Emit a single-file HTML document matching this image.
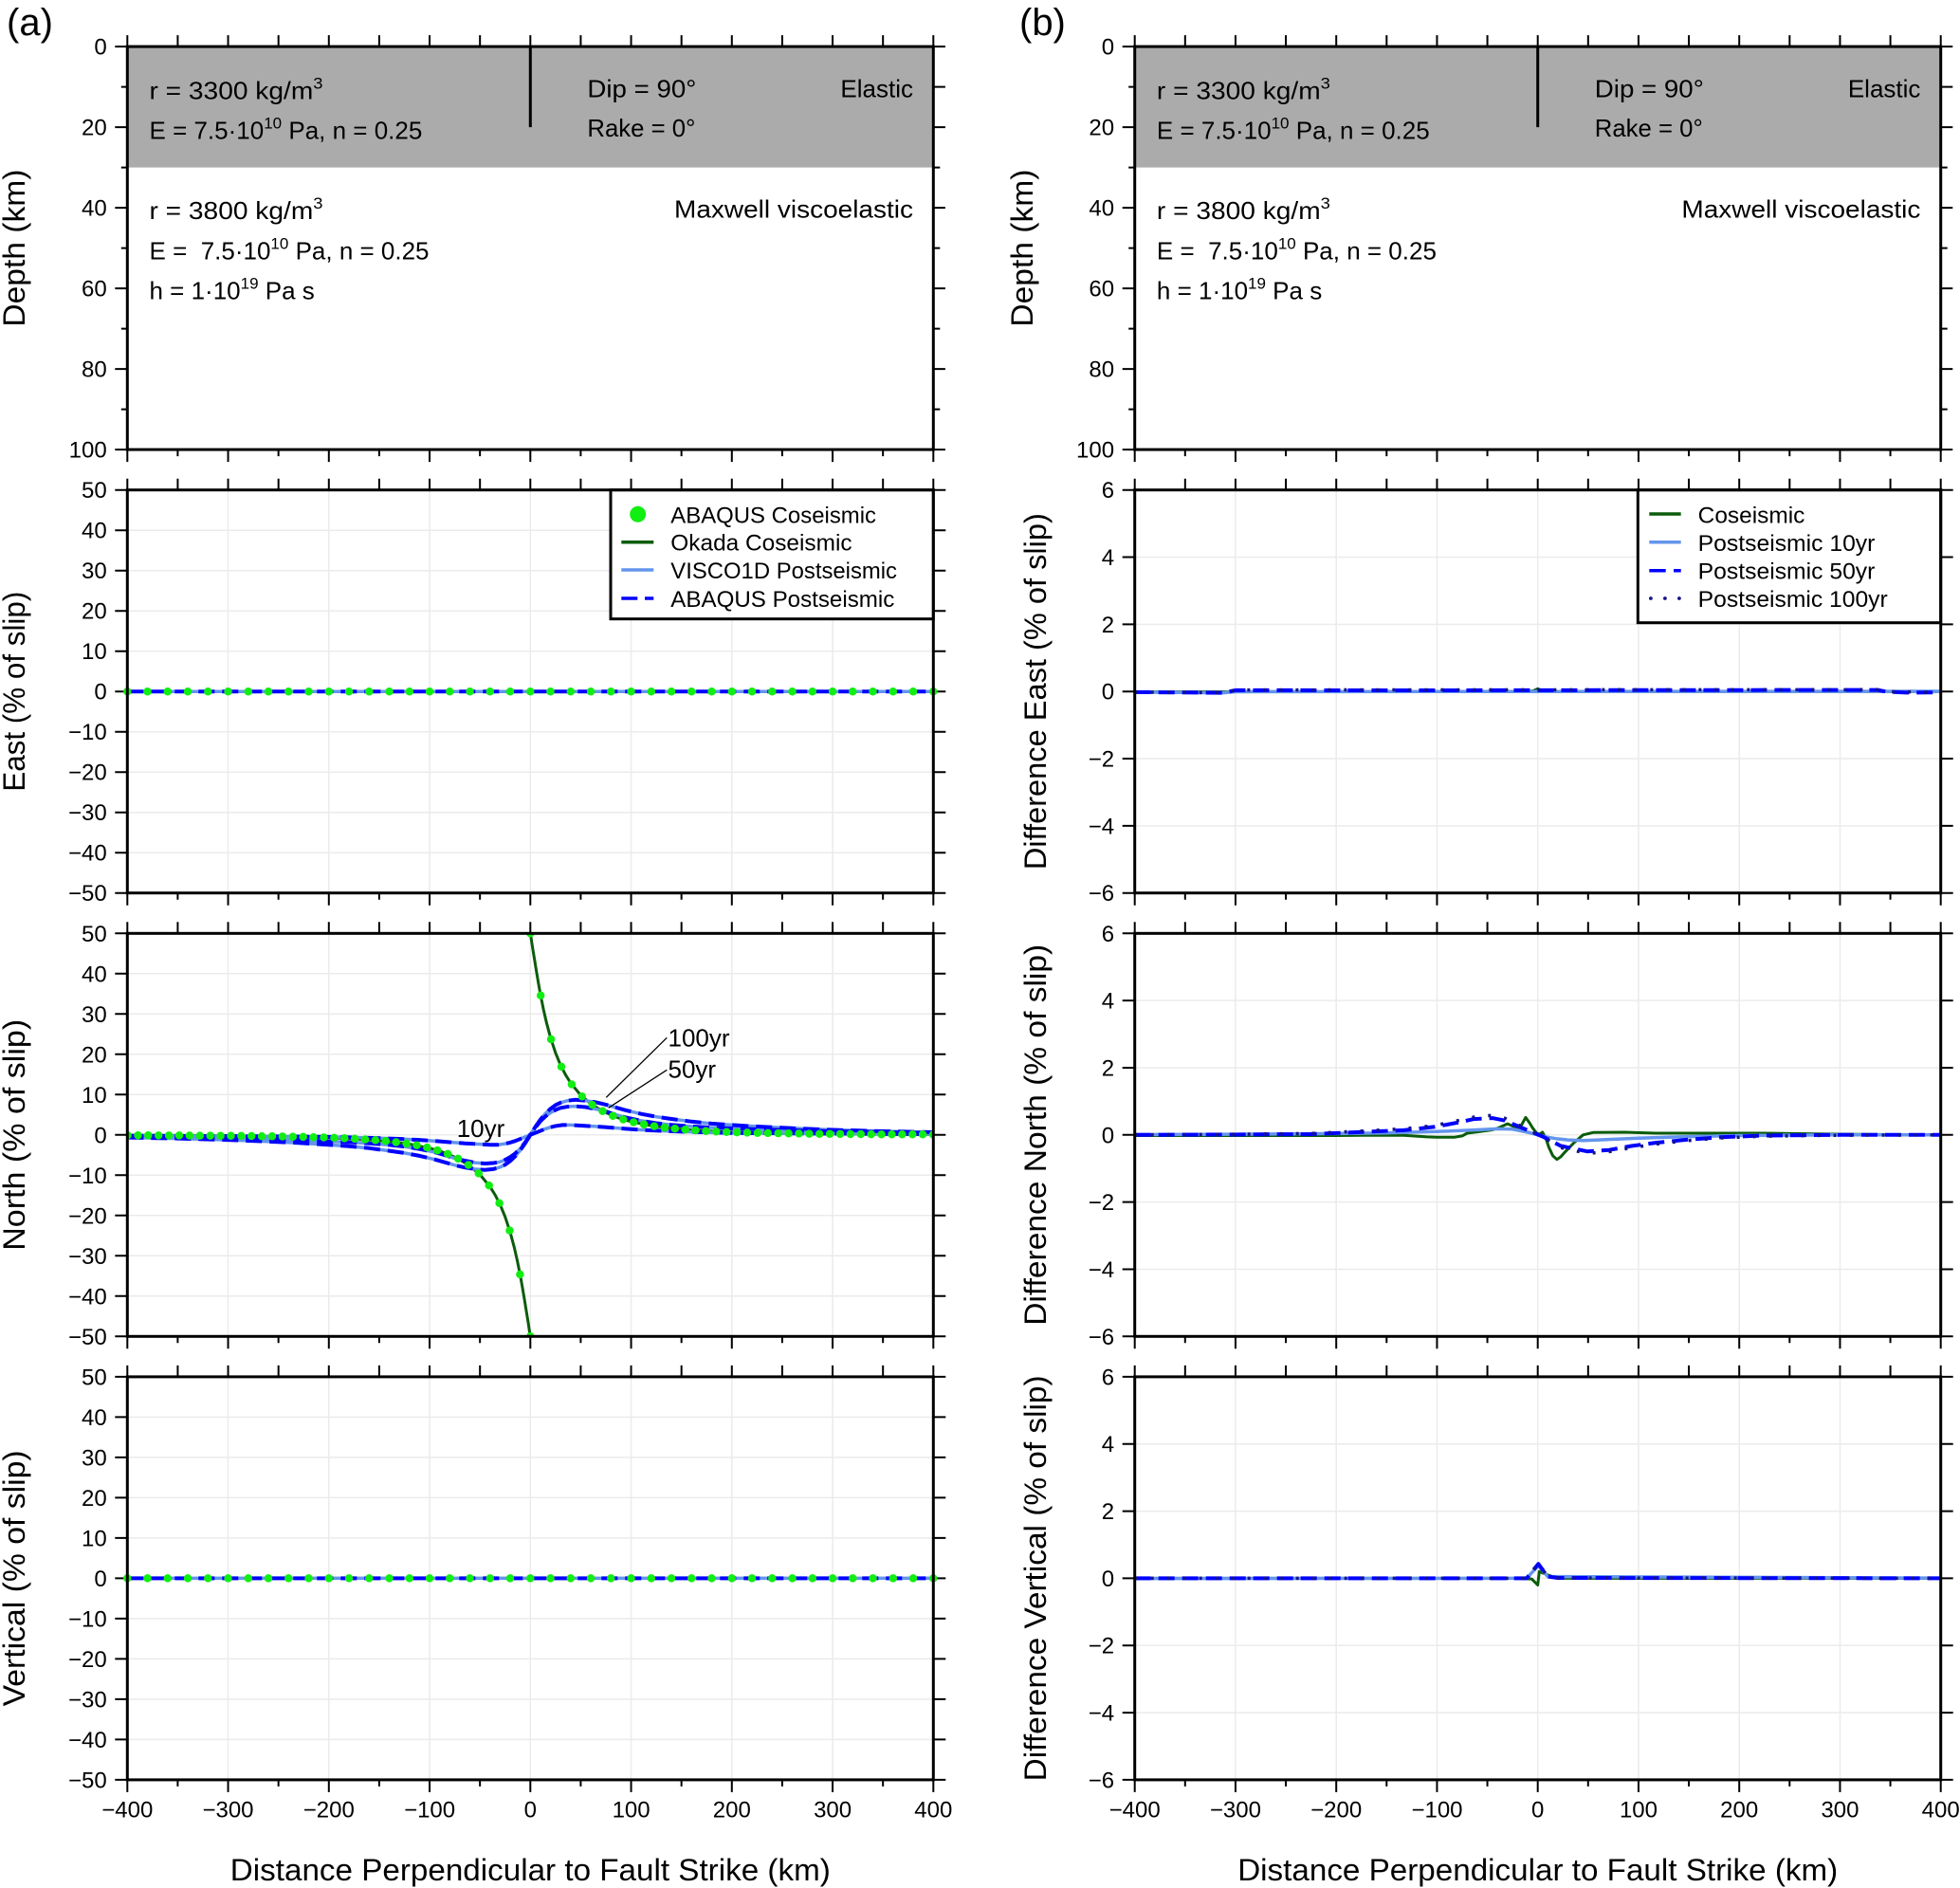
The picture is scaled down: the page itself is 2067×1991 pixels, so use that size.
<!DOCTYPE html>
<html><head><meta charset="utf-8">
<style>
html,body{margin:0;padding:0;background:#fff}
svg{display:block}
text{font-family:"Liberation Sans",Arial,sans-serif;fill:#000}
</style></head>
<body>
<svg width="2067" height="1991" viewBox="0 0 2067 1991" xmlns="http://www.w3.org/2000/svg">
<defs>
<clipPath id="cL3"><rect x="134.3" y="984.3" width="850" height="425"/></clipPath>
<clipPath id="cR3"><rect x="1196.7" y="984.3" width="850" height="425"/></clipPath>
<clipPath id="cL2"><rect x="130" y="516.7" width="860" height="425"/></clipPath>
<clipPath id="cL4"><rect x="130" y="1451.9" width="860" height="425"/></clipPath>
<clipPath id="cR2"><rect x="1196.7" y="516.7" width="850" height="425"/></clipPath>
<clipPath id="cR4"><rect x="1196.7" y="1451.9" width="850" height="425"/></clipPath>
</defs>
<rect width="2067" height="1991" fill="#fff"/>

<!-- ================= LEFT COLUMN STATIC ================= -->
<g id="leftcol">
<rect x="134.3" y="49.1" width="850" height="127.5" fill="#ababab"/>
<line x1="559.3" y1="49.1" x2="559.3" y2="134.1" stroke="#000" stroke-width="3"/>
<g font-size="26">
<text x="157.5" y="104.3" textLength="183" lengthAdjust="spacingAndGlyphs">r = 3300 kg/m<tspan font-size="17" dy="-11">3</tspan></text>
<text x="157.5" y="146.6">E = 7.5·10<tspan font-size="17" dy="-11">10</tspan><tspan dy="11"> Pa, n = 0.25</tspan></text>
<text x="619.4" y="102.6" textLength="115" lengthAdjust="spacingAndGlyphs">Dip = 90°</text>
<text x="619.4" y="144" textLength="114" lengthAdjust="spacingAndGlyphs">Rake = 0°</text>
<text x="963" y="102.6" text-anchor="end">Elastic</text>
<text x="963" y="229.7" text-anchor="end" textLength="252" lengthAdjust="spacingAndGlyphs">Maxwell viscoelastic</text>
<text x="157.5" y="230.8" textLength="183" lengthAdjust="spacingAndGlyphs">r = 3800 kg/m<tspan font-size="17" dy="-11">3</tspan></text>
<text x="157.5" y="273.5">E =&#160; 7.5·10<tspan font-size="17" dy="-11">10</tspan><tspan dy="11"> Pa, n = 0.25</tspan></text>
<text x="157.5" y="315.7">h = 1·10<tspan font-size="17" dy="-11">19</tspan><tspan dy="11"> Pa s</tspan></text>
</g>

<path fill="none" stroke="#ebebeb" stroke-width="1.5" d="M240.5 516.7V941.7M346.8 516.7V941.7M453.1 516.7V941.7M559.3 516.7V941.7M665.6 516.7V941.7M771.8 516.7V941.7M878.1 516.7V941.7
M134.3 559.2H984.3M134.3 601.7H984.3M134.3 644.2H984.3M134.3 686.7H984.3M134.3 729.2H984.3M134.3 771.7H984.3M134.3 814.2H984.3M134.3 856.7H984.3M134.3 899.2H984.3
M240.5 984.3V1409.3M346.8 984.3V1409.3M453.1 984.3V1409.3M559.3 984.3V1409.3M665.6 984.3V1409.3M771.8 984.3V1409.3M878.1 984.3V1409.3
M134.3 1026.8H984.3M134.3 1069.3H984.3M134.3 1111.8H984.3M134.3 1154.3H984.3M134.3 1196.8H984.3M134.3 1239.3H984.3M134.3 1281.8H984.3M134.3 1324.3H984.3M134.3 1366.8H984.3
M240.5 1451.9V1876.9M346.8 1451.9V1876.9M453.1 1451.9V1876.9M559.3 1451.9V1876.9M665.6 1451.9V1876.9M771.8 1451.9V1876.9M878.1 1451.9V1876.9
M134.3 1494.4H984.3M134.3 1536.9H984.3M134.3 1579.4H984.3M134.3 1621.9H984.3M134.3 1664.4H984.3M134.3 1706.9H984.3M134.3 1749.4H984.3M134.3 1791.9H984.3M134.3 1834.4H984.3"/>

<g stroke="#000" fill="none">
<line x1="133.3" y1="43.1" x2="985.3" y2="43.1" stroke-width="12" stroke-dasharray="2 51.125"/>
<line x1="133.3" y1="510.7" x2="985.3" y2="510.7" stroke-width="12" stroke-dasharray="2 51.125"/>
<line x1="133.3" y1="978.3" x2="985.3" y2="978.3" stroke-width="12" stroke-dasharray="2 51.125"/>
<line x1="133.3" y1="1445.9" x2="985.3" y2="1445.9" stroke-width="12" stroke-dasharray="2 51.125"/>
<line x1="133.3" y1="480.6" x2="985.3" y2="480.6" stroke-width="13" stroke-dasharray="2 104.25"/>
<line x1="133.3" y1="948.2" x2="985.3" y2="948.2" stroke-width="13" stroke-dasharray="2 104.25"/>
<line x1="133.3" y1="1415.8" x2="985.3" y2="1415.8" stroke-width="13" stroke-dasharray="2 104.25"/>
<line x1="133.3" y1="1883.4" x2="985.3" y2="1883.4" stroke-width="13" stroke-dasharray="2 104.25"/>
<line x1="186.4" y1="477.6" x2="932.2" y2="477.6" stroke-width="7" stroke-dasharray="2 104.25"/>
<line x1="186.4" y1="945.2" x2="932.2" y2="945.2" stroke-width="7" stroke-dasharray="2 104.25"/>
<line x1="186.4" y1="1412.8" x2="932.2" y2="1412.8" stroke-width="7" stroke-dasharray="2 104.25"/>
<line x1="186.4" y1="1880.4" x2="932.2" y2="1880.4" stroke-width="7" stroke-dasharray="2 104.25"/>
<line x1="127.8" y1="48.1" x2="127.8" y2="475.1" stroke-width="13" stroke-dasharray="2 83"/>
<line x1="131.05" y1="90.6" x2="131.05" y2="432.6" stroke-width="6.5" stroke-dasharray="2 83"/>
<path stroke-width="2" d="M984.3 49.1h12.6M984.3 91.6h12.6M984.3 134.1h12.6M984.3 219.1h12.6M984.3 304.1h12.6M984.3 389.1h12.6M984.3 474.1h12.6M984.3 176.6h7M984.3 261.6h7M984.3 346.6h7M984.3 431.6h7"/>
<line x1="127.8" y1="515.7" x2="127.8" y2="942.7" stroke-width="13" stroke-dasharray="2 40.5"/>
<line x1="990.8" y1="515.7" x2="990.8" y2="942.7" stroke-width="13" stroke-dasharray="2 40.5"/>
<line x1="127.8" y1="983.3" x2="127.8" y2="1410.3" stroke-width="13" stroke-dasharray="2 40.5"/>
<line x1="990.8" y1="983.3" x2="990.8" y2="1410.3" stroke-width="13" stroke-dasharray="2 40.5"/>
<line x1="127.8" y1="1450.9" x2="127.8" y2="1877.9" stroke-width="13" stroke-dasharray="2 40.5"/>
<line x1="990.8" y1="1450.9" x2="990.8" y2="1877.9" stroke-width="13" stroke-dasharray="2 40.5"/>
</g>

<g font-size="24" text-anchor="end">
<text x="112.7" y="57.6">0</text><text x="112.7" y="142.6">20</text><text x="112.7" y="227.6">40</text><text x="112.7" y="312.6">60</text><text x="112.7" y="397.6">80</text><text x="112.7" y="482.6">100</text>
<text x="112.7" y="525.2">50</text><text x="112.7" y="567.7">40</text><text x="112.7" y="610.2">30</text><text x="112.7" y="652.7">20</text><text x="112.7" y="695.2">10</text><text x="112.7" y="737.7">0</text><text x="112.7" y="780.2">−10</text><text x="112.7" y="822.7">−20</text><text x="112.7" y="865.2">−30</text><text x="112.7" y="907.7">−40</text><text x="112.7" y="950.2">−50</text>
<text x="112.7" y="992.8">50</text><text x="112.7" y="1035.3">40</text><text x="112.7" y="1077.8">30</text><text x="112.7" y="1120.3">20</text><text x="112.7" y="1162.8">10</text><text x="112.7" y="1205.3">0</text><text x="112.7" y="1247.8">−10</text><text x="112.7" y="1290.3">−20</text><text x="112.7" y="1332.8">−30</text><text x="112.7" y="1375.3">−40</text><text x="112.7" y="1417.8">−50</text>
<text x="112.7" y="1460.4">50</text><text x="112.7" y="1502.9">40</text><text x="112.7" y="1545.4">30</text><text x="112.7" y="1587.9">20</text><text x="112.7" y="1630.4">10</text><text x="112.7" y="1672.9">0</text><text x="112.7" y="1715.4">−10</text><text x="112.7" y="1757.9">−20</text><text x="112.7" y="1800.4">−30</text><text x="112.7" y="1842.9">−40</text><text x="112.7" y="1885.4">−50</text>
</g>
<g font-size="24" text-anchor="middle">
<text x="134.3" y="1916.7">−400</text><text x="240.5" y="1916.7">−300</text><text x="346.8" y="1916.7">−200</text><text x="453.1" y="1916.7">−100</text><text x="559.3" y="1916.7">0</text><text x="665.6" y="1916.7">100</text><text x="771.8" y="1916.7">200</text><text x="878.1" y="1916.7">300</text><text x="984.3" y="1916.7">400</text>
</g>

<g font-size="32" text-anchor="middle">
<text transform="translate(26 261.6) rotate(-90)" textLength="166" lengthAdjust="spacingAndGlyphs">Depth (km)</text>
<text transform="translate(26 729.2) rotate(-90)" textLength="211" lengthAdjust="spacingAndGlyphs">East (% of slip)</text>
<text transform="translate(26 1196.8) rotate(-90)" textLength="244" lengthAdjust="spacingAndGlyphs">North (% of slip)</text>
<text transform="translate(26 1664.4) rotate(-90)" textLength="270" lengthAdjust="spacingAndGlyphs">Vertical (% of slip)</text>
<text x="559.3" y="1983" textLength="633" lengthAdjust="spacingAndGlyphs">Distance Perpendicular to Fault Strike (km)</text>
</g>
<text x="7" y="37" font-size="40">(a)</text>
</g>

<!-- ================= RIGHT COLUMN STATIC ================= -->
<g transform="translate(1062.4 0)">
<rect x="134.3" y="49.1" width="850" height="127.5" fill="#ababab"/>
<line x1="559.3" y1="49.1" x2="559.3" y2="134.1" stroke="#000" stroke-width="3"/>
<g font-size="26">
<text x="157.5" y="104.3" textLength="183" lengthAdjust="spacingAndGlyphs">r = 3300 kg/m<tspan font-size="17" dy="-11">3</tspan></text>
<text x="157.5" y="146.6">E = 7.5·10<tspan font-size="17" dy="-11">10</tspan><tspan dy="11"> Pa, n = 0.25</tspan></text>
<text x="619.4" y="102.6" textLength="115" lengthAdjust="spacingAndGlyphs">Dip = 90°</text>
<text x="619.4" y="144" textLength="114" lengthAdjust="spacingAndGlyphs">Rake = 0°</text>
<text x="963" y="102.6" text-anchor="end">Elastic</text>
<text x="963" y="229.7" text-anchor="end" textLength="252" lengthAdjust="spacingAndGlyphs">Maxwell viscoelastic</text>
<text x="157.5" y="230.8" textLength="183" lengthAdjust="spacingAndGlyphs">r = 3800 kg/m<tspan font-size="17" dy="-11">3</tspan></text>
<text x="157.5" y="273.5">E =&#160; 7.5·10<tspan font-size="17" dy="-11">10</tspan><tspan dy="11"> Pa, n = 0.25</tspan></text>
<text x="157.5" y="315.7">h = 1·10<tspan font-size="17" dy="-11">19</tspan><tspan dy="11"> Pa s</tspan></text>
</g>

<path fill="none" stroke="#ebebeb" stroke-width="1.5" d="M240.5 516.7V941.7M346.8 516.7V941.7M453.1 516.7V941.7M559.3 516.7V941.7M665.6 516.7V941.7M771.8 516.7V941.7M878.1 516.7V941.7
M134.3 587.5H984.3M134.3 658.4H984.3M134.3 729.2H984.3M134.3 800H984.3M134.3 870.9H984.3
M240.5 984.3V1409.3M346.8 984.3V1409.3M453.1 984.3V1409.3M559.3 984.3V1409.3M665.6 984.3V1409.3M771.8 984.3V1409.3M878.1 984.3V1409.3
M134.3 1055.1H984.3M134.3 1126H984.3M134.3 1196.8H984.3M134.3 1267.6H984.3M134.3 1338.5H984.3
M240.5 1451.9V1876.9M346.8 1451.9V1876.9M453.1 1451.9V1876.9M559.3 1451.9V1876.9M665.6 1451.9V1876.9M771.8 1451.9V1876.9M878.1 1451.9V1876.9
M134.3 1522.7H984.3M134.3 1593.6H984.3M134.3 1664.4H984.3M134.3 1735.2H984.3M134.3 1806.1H984.3"/>

<g stroke="#000" fill="none">
<line x1="133.3" y1="43.1" x2="985.3" y2="43.1" stroke-width="12" stroke-dasharray="2 51.125"/>
<line x1="133.3" y1="510.7" x2="985.3" y2="510.7" stroke-width="12" stroke-dasharray="2 51.125"/>
<line x1="133.3" y1="978.3" x2="985.3" y2="978.3" stroke-width="12" stroke-dasharray="2 51.125"/>
<line x1="133.3" y1="1445.9" x2="985.3" y2="1445.9" stroke-width="12" stroke-dasharray="2 51.125"/>
<line x1="133.3" y1="480.6" x2="985.3" y2="480.6" stroke-width="13" stroke-dasharray="2 104.25"/>
<line x1="133.3" y1="948.2" x2="985.3" y2="948.2" stroke-width="13" stroke-dasharray="2 104.25"/>
<line x1="133.3" y1="1415.8" x2="985.3" y2="1415.8" stroke-width="13" stroke-dasharray="2 104.25"/>
<line x1="133.3" y1="1883.4" x2="985.3" y2="1883.4" stroke-width="13" stroke-dasharray="2 104.25"/>
<line x1="186.4" y1="477.6" x2="932.2" y2="477.6" stroke-width="7" stroke-dasharray="2 104.25"/>
<line x1="186.4" y1="945.2" x2="932.2" y2="945.2" stroke-width="7" stroke-dasharray="2 104.25"/>
<line x1="186.4" y1="1412.8" x2="932.2" y2="1412.8" stroke-width="7" stroke-dasharray="2 104.25"/>
<line x1="186.4" y1="1880.4" x2="932.2" y2="1880.4" stroke-width="7" stroke-dasharray="2 104.25"/>
<line x1="127.8" y1="48.1" x2="127.8" y2="475.1" stroke-width="13" stroke-dasharray="2 83"/>
<line x1="131.05" y1="90.6" x2="131.05" y2="432.6" stroke-width="6.5" stroke-dasharray="2 83"/>
<path stroke-width="2" d="M984.3 49.1h12.6M984.3 91.6h12.6M984.3 134.1h12.6M984.3 219.1h12.6M984.3 304.1h12.6M984.3 389.1h12.6M984.3 474.1h12.6M984.3 176.6h7M984.3 261.6h7M984.3 346.6h7M984.3 431.6h7"/>
<line x1="127.8" y1="515.7" x2="127.8" y2="942.7" stroke-width="13" stroke-dasharray="2 68.833"/>
<line x1="990.8" y1="515.7" x2="990.8" y2="942.7" stroke-width="13" stroke-dasharray="2 68.833"/>
<line x1="127.8" y1="983.3" x2="127.8" y2="1410.3" stroke-width="13" stroke-dasharray="2 68.833"/>
<line x1="990.8" y1="983.3" x2="990.8" y2="1410.3" stroke-width="13" stroke-dasharray="2 68.833"/>
<line x1="127.8" y1="1450.9" x2="127.8" y2="1877.9" stroke-width="13" stroke-dasharray="2 68.833"/>
<line x1="990.8" y1="1450.9" x2="990.8" y2="1877.9" stroke-width="13" stroke-dasharray="2 68.833"/>
</g>

<g font-size="24" text-anchor="end">
<text x="112.7" y="57.6">0</text><text x="112.7" y="142.6">20</text><text x="112.7" y="227.6">40</text><text x="112.7" y="312.6">60</text><text x="112.7" y="397.6">80</text><text x="112.7" y="482.6">100</text>
<text x="112.7" y="525.2">6</text><text x="112.7" y="596">4</text><text x="112.7" y="666.9">2</text><text x="112.7" y="737.7">0</text><text x="112.7" y="808.5">−2</text><text x="112.7" y="879.4">−4</text><text x="112.7" y="950.2">−6</text>
<text x="112.7" y="992.8">6</text><text x="112.7" y="1063.6">4</text><text x="112.7" y="1134.5">2</text><text x="112.7" y="1205.3">0</text><text x="112.7" y="1276.1">−2</text><text x="112.7" y="1347">−4</text><text x="112.7" y="1417.8">−6</text>
<text x="112.7" y="1460.4">6</text><text x="112.7" y="1531.2">4</text><text x="112.7" y="1602.1">2</text><text x="112.7" y="1672.9">0</text><text x="112.7" y="1743.7">−2</text><text x="112.7" y="1814.6">−4</text><text x="112.7" y="1885.4">−6</text>
</g>
<g font-size="24" text-anchor="middle">
<text x="134.3" y="1916.7">−400</text><text x="240.5" y="1916.7">−300</text><text x="346.8" y="1916.7">−200</text><text x="453.1" y="1916.7">−100</text><text x="559.3" y="1916.7">0</text><text x="665.6" y="1916.7">100</text><text x="771.8" y="1916.7">200</text><text x="878.1" y="1916.7">300</text><text x="984.3" y="1916.7">400</text>
</g>
<g font-size="32" text-anchor="middle">
<text transform="translate(26.6 261.6) rotate(-90)" textLength="166" lengthAdjust="spacingAndGlyphs">Depth (km)</text>
<text transform="translate(40.6 729.2) rotate(-90)" textLength="376" lengthAdjust="spacingAndGlyphs">Difference East (% of slip)</text>
<text transform="translate(40.6 1196.8) rotate(-90)" textLength="402" lengthAdjust="spacingAndGlyphs">Difference North (% of slip)</text>
<text transform="translate(40.6 1664.4) rotate(-90)" textLength="428" lengthAdjust="spacingAndGlyphs">Difference Vertical (% of slip)</text>
<text x="559.3" y="1983" textLength="633" lengthAdjust="spacingAndGlyphs">Distance Perpendicular to Fault Strike (km)</text>
</g>
<text x="12.6" y="37" font-size="40">(b)</text>
</g>

<!-- ================= LEFT DATA ================= -->
<g clip-path="url(#cL2)" fill="none">
<line x1="134.3" y1="729.2" x2="984.3" y2="729.2" stroke="#0a5c0a" stroke-width="3"/>
<line x1="134.3" y1="729.2" x2="984.3" y2="729.2" stroke="#6495ed" stroke-width="3.5"/>
<line x1="134.3" y1="729.2" x2="984.3" y2="729.2" stroke="#0000ff" stroke-width="4" stroke-dasharray="17 8"/>
<line x1="134.3" y1="729.2" x2="985" y2="729.2" stroke="#11ee11" stroke-width="8.5" stroke-linecap="round" stroke-dasharray="0 21.25"/>
</g>
<g clip-path="url(#cL4)" fill="none">
<line x1="134.3" y1="1664.4" x2="984.3" y2="1664.4" stroke="#0a5c0a" stroke-width="3"/>
<line x1="134.3" y1="1664.4" x2="984.3" y2="1664.4" stroke="#6495ed" stroke-width="3.5"/>
<line x1="134.3" y1="1664.4" x2="984.3" y2="1664.4" stroke="#0000ff" stroke-width="4" stroke-dasharray="17 8"/>
<line x1="134.3" y1="1664.4" x2="985" y2="1664.4" stroke="#11ee11" stroke-width="8.5" stroke-linecap="round" stroke-dasharray="0 21.25"/>
</g>
<g clip-path="url(#cL3)" fill="none" stroke-linejoin="round">
<path stroke="#0a5c0a" stroke-width="3" d="M559.3 984.3L560.4 991.1L561.4 997.8L562.5 1004.6L563.6 1011.3L565.7 1024.3L567.8 1036.7L569.9 1048.4L573.1 1064.3L576.3 1078.3L580.6 1094.3L585.9 1110.4L591.2 1123.3L596.5 1133.6L601.8 1142L612.4 1154.9L623.1 1164L633.7 1170.7L644.3 1175.8L654.9 1179.8L665.6 1182.8L686.8 1187.1L708.1 1189.9L729.3 1191.7L750.6 1193L771.8 1193.9L824.9 1195.2L878.1 1195.8L931.2 1196.2L984.3 1196.4
M559.3 1409.3L558.2 1402.5L557.2 1395.8L556.1 1389L555 1382.3L552.9 1369.3L550.8 1356.9L548.7 1345.2L545.5 1329.3L542.3 1315.3L538 1299.3L532.7 1283.2L527.4 1270.3L522.1 1260L516.8 1251.6L506.2 1238.7L495.5 1229.6L484.9 1222.9L474.3 1217.8L463.7 1213.8L453 1210.8L431.8 1206.5L410.5 1203.7L389.3 1201.9L368 1200.6L346.8 1199.7L293.7 1198.4L240.5 1197.8L187.4 1197.4L134.3 1197.2"/>
<g stroke="#6495ed" stroke-width="3.5">
<path d="M134.3 1199.6L187.4 1200.6L240.5 1202.1L283 1203.8L314.9 1205.3L346.8 1207.2L368 1208.7L389.3 1210.8L410.5 1213.6L426.5 1215.9L442.4 1218.9L458.4 1222.7L469 1225.7L479.6 1228.7L490.2 1231.2L500.9 1232.9L511.5 1233.8L520 1232.9L527.4 1230.8L532.7 1228.25L538 1224.4L543.4 1219.3L548.7 1212.95L554 1205.3L559.3 1196.8L564.6 1188.3L569.9 1180.65L575.2 1174.3L580.6 1169.2L585.9 1165.35L591.2 1162.8L598.6 1160.7L607.1 1159.8L617.7 1160.7L628.4 1162.4L639 1164.9L649.6 1167.9L660.2 1170.9L676.2 1174.7L692.1 1177.7L708.1 1180L729.3 1182.8L750.6 1184.9L771.8 1186.4L803.7 1188.3L835.6 1189.8L878.1 1191.5L931.2 1193L984.3 1194"/>
<path d="M134.3 1198.9L187.4 1199.8L240.5 1200.6L283 1201.7L314.9 1202.5L346.8 1203.6L368 1204.45L389.3 1205.7L410.5 1207.4L426.5 1209.1L442.4 1211.7L458.4 1215.1L469 1218.05L479.6 1221.45L490.2 1224L500.9 1226.1L511.5 1227L520 1226.55L527.4 1225.3L532.7 1223.15L538 1220.2L543.4 1216.35L548.7 1211.25L554 1204.45L559.3 1196.8L564.6 1189.15L569.9 1182.35L575.2 1177.25L580.6 1173.4L585.9 1170.45L591.2 1168.3L598.6 1167.05L607.1 1166.6L617.7 1167.5L628.4 1169.6L639 1172.15L649.6 1175.55L660.2 1178.5L676.2 1181.9L692.1 1184.5L708.1 1186.2L729.3 1187.9L750.6 1189.15L771.8 1190L803.7 1191.1L835.6 1191.9L878.1 1193L931.2 1193.8L984.3 1194.7"/>
<path d="M134.3 1197.65L187.4 1197.9L240.5 1198.1L293.7 1198.4L346.8 1198.9L368 1199.35L399.9 1200.2L421.2 1201.05L442.4 1202.1L458.4 1203.2L474.3 1204.45L490.2 1205.7L506.2 1206.6L516.8 1207.2L525.3 1207.2L532.7 1206.15L538 1204.9L543.4 1203.2L548.7 1201.05L554 1198.9L559.3 1196.8L564.6 1194.7L569.9 1192.55L575.2 1190.4L580.6 1188.7L585.9 1187.45L593.3 1186.4L601.8 1186.4L612.4 1187L628.4 1187.9L644.3 1189.15L660.2 1190.4L676.2 1191.5L697.4 1192.55L718.7 1193.4L750.6 1194.25L771.8 1194.7L824.9 1195.2L878.1 1195.5L931.2 1195.7L984.3 1195.95"/>
</g>
<g stroke="#0000ff" stroke-width="4" stroke-dasharray="17 8">
<path d="M134.3 1199.6L187.4 1200.6L240.5 1202.1L283 1203.8L314.9 1205.3L346.8 1207.2L368 1208.7L389.3 1210.8L410.5 1213.6L426.5 1215.9L442.4 1218.9L458.4 1222.7L469 1225.7L479.6 1228.7L490.2 1231.2L500.9 1232.9L511.5 1233.8L520 1232.9L527.4 1230.8L532.7 1228.25L538 1224.4L543.4 1219.3L548.7 1212.95L554 1205.3L559.3 1196.8L564.6 1188.3L569.9 1180.65L575.2 1174.3L580.6 1169.2L585.9 1165.35L591.2 1162.8L598.6 1160.7L607.1 1159.8L617.7 1160.7L628.4 1162.4L639 1164.9L649.6 1167.9L660.2 1170.9L676.2 1174.7L692.1 1177.7L708.1 1180L729.3 1182.8L750.6 1184.9L771.8 1186.4L803.7 1188.3L835.6 1189.8L878.1 1191.5L931.2 1193L984.3 1194"/>
<path d="M134.3 1198.9L187.4 1199.8L240.5 1200.6L283 1201.7L314.9 1202.5L346.8 1203.6L368 1204.45L389.3 1205.7L410.5 1207.4L426.5 1209.1L442.4 1211.7L458.4 1215.1L469 1218.05L479.6 1221.45L490.2 1224L500.9 1226.1L511.5 1227L520 1226.55L527.4 1225.3L532.7 1223.15L538 1220.2L543.4 1216.35L548.7 1211.25L554 1204.45L559.3 1196.8L564.6 1189.15L569.9 1182.35L575.2 1177.25L580.6 1173.4L585.9 1170.45L591.2 1168.3L598.6 1167.05L607.1 1166.6L617.7 1167.5L628.4 1169.6L639 1172.15L649.6 1175.55L660.2 1178.5L676.2 1181.9L692.1 1184.5L708.1 1186.2L729.3 1187.9L750.6 1189.15L771.8 1190L803.7 1191.1L835.6 1191.9L878.1 1193L931.2 1193.8L984.3 1194.7"/>
<path d="M134.3 1197.65L187.4 1197.9L240.5 1198.1L293.7 1198.4L346.8 1198.9L368 1199.35L399.9 1200.2L421.2 1201.05L442.4 1202.1L458.4 1203.2L474.3 1204.45L490.2 1205.7L506.2 1206.6L516.8 1207.2L525.3 1207.2L532.7 1206.15L538 1204.9L543.4 1203.2L548.7 1201.05L554 1198.9L559.3 1196.8L564.6 1194.7L569.9 1192.55L575.2 1190.4L580.6 1188.7L585.9 1187.45L593.3 1186.4L601.8 1186.4L612.4 1187L628.4 1187.9L644.3 1189.15L660.2 1190.4L676.2 1191.5L697.4 1192.55L718.7 1193.4L750.6 1194.25L771.8 1194.7L824.9 1195.2L878.1 1195.5L931.2 1195.7L984.3 1195.95"/>
</g>
<path stroke="#11ee11" stroke-width="8.5" stroke-linecap="round" d="M559.3 984.3h0M559.3 1409.3h0
M570.2 1049.7h0M581.1 1096h0M592 1124.9h0M602.9 1143.5h0M613.8 1156.2h0M624.6 1165.1h0M635.5 1171.7h0M646.4 1176.7h0M657.3 1180.5h0M668.2 1183.5h0M679.1 1185.8h0M690 1187.6h0M700.9 1189.1h0M711.8 1190.3h0M722.7 1191.2h0M733.5 1192h0M744.4 1192.7h0M755.3 1193.2h0M766.2 1193.7h0M777.1 1194.1h0M788 1194.4h0M798.9 1194.7h0M809.8 1194.9h0M820.7 1195.1h0M831.6 1195.3h0M842.5 1195.4h0M853.4 1195.6h0M864.2 1195.7h0M875.1 1195.8h0M886 1195.9h0M896.9 1196h0M907.8 1196h0M918.7 1196.1h0M929.6 1196.2h0M940.5 1196.2h0M951.4 1196.2h0M962.3 1196.3h0M973.1 1196.3h0M984 1196.4h0
M548.4 1343.9h0M537.5 1297.6h0M526.6 1268.7h0M515.7 1250.1h0M504.8 1237.4h0M494 1228.5h0M483.1 1221.9h0M472.2 1216.9h0M461.3 1213.1h0M450.4 1210.1h0M439.5 1207.8h0M428.6 1206h0M417.7 1204.5h0M406.8 1203.3h0M395.9 1202.4h0M385.1 1201.6h0M374.2 1200.9h0M363.3 1200.4h0M352.4 1199.9h0M341.5 1199.5h0M330.6 1199.2h0M319.7 1198.9h0M308.8 1198.7h0M297.9 1198.5h0M287 1198.3h0M276.1 1198.2h0M265.2 1198h0M254.4 1197.9h0M243.5 1197.8h0M232.6 1197.7h0M221.7 1197.6h0M210.8 1197.6h0M199.9 1197.5h0M189 1197.4h0M178.1 1197.4h0M167.2 1197.4h0M156.3 1197.3h0M145.5 1197.3h0M134.6 1197.2h0"/>
</g>
<path stroke="#000" stroke-width="1.3" fill="none" d="M703.3 1094.3L639.3 1157.3M703.3 1128.3L641.7 1168.3"/>
<g font-size="26">
<text x="704.5" y="1103.3">100yr</text>
<text x="704.5" y="1136.7">50yr</text>
<text x="481.7" y="1199">10yr</text>
</g>

<!-- ================= RIGHT DATA ================= -->
<g clip-path="url(#cR2)" fill="none" stroke-linejoin="round">
<path stroke="#0a5c0a" stroke-width="3" d="M1196.7 729.6L1610 729.4L1617 728.5L1621.7 726.4L1626 728.5L1633 729.2L2046.7 729.2"/>
<path stroke="#6495ed" stroke-width="3.5" d="M1196.7 729.9L1290 730.6L1303 729.4L2046.7 729"/>
<path stroke="#0000ff" stroke-width="4" stroke-dasharray="17 8" d="M1196.7 729.9L1290 730.6L1303 727.9L1500 728L1700 727.8L1980 727.6L1990 729.5L2010 730.4L2046.7 730.2"/>
<path stroke="#14148c" stroke-width="3.5" stroke-dasharray="3 14" d="M1196.7 729.9L1290 730.6L1303 727.6L1980 727.3L1990 729.4L2046.7 730"/>
</g>
<g clip-path="url(#cR3)" fill="none" stroke-linejoin="round">
<path stroke="#0a5c0a" stroke-width="3" d="M1196.7 1197.5L1303 1197.5L1409.2 1197.5L1436.8 1197.3L1480.4 1197.3L1504.8 1198.9L1515.5 1199.3L1533.5 1199.3L1542 1197.9L1547.3 1195L1557.95 1193.6L1566.45 1192.55L1573.9 1191.5L1580.3 1189.4L1589.8 1185.1L1596.2 1187.9L1600.45 1190.8L1604.7 1186.2L1608.95 1178.4L1613.2 1184.4L1616.7 1190.1L1620.6 1195L1623.4 1196.1L1626.7 1194L1630.2 1200.3L1633.4 1209.9L1637.6 1218.8L1641.9 1222.7L1646.1 1219.8L1650.4 1214.9L1659.95 1205L1669.5 1196.8L1680.1 1194.3L1713.1 1194L1746 1195L1780 1195L1859.7 1195L1940.5 1196.1L2046.7 1196.8"/>
<path stroke="#6495ed" stroke-width="3.5" d="M1196.7 1196.45L1303 1196.1L1409.2 1195.4L1462.3 1194.7L1515.5 1193.3L1557.95 1191.5L1579.2 1190.4L1595.1 1190.8L1611.1 1194L1621.7 1196.8L1632.3 1199.3L1642.95 1201.05L1653.6 1202.1L1669.5 1202.8L1685.45 1202.1L1727.95 1200.3L1781.1 1198.6L1834.2 1197.5L1940.5 1196.8L2046.7 1196.8"/>
<path stroke="#0000ff" stroke-width="4" stroke-dasharray="17 8" d="M1196.7 1196.8L1303 1196.45L1380.5 1196.1L1447.45 1193.25L1480.4 1191.85L1513.3 1188.3L1539.9 1183.3L1553.7 1180.15L1573.9 1179.1L1586.6 1181.6L1606.8 1190.1L1627 1198.6L1646.1 1208.5L1673.8 1214.2L1697.1 1212.7L1720.5 1208.5L1747.1 1205L1780 1201.8L1814 1199.3L1859.7 1197.5L1940.5 1196.8L2046.7 1196.8"/>
<path stroke="#14148c" stroke-width="3.5" stroke-dasharray="3 14" d="M1196.7 1196.8L1303 1196.1L1380.5 1195.4L1447.45 1192.2L1480.4 1190.4L1513.3 1186.9L1539.9 1181.2L1557.95 1177.3L1573.9 1176.25L1586.6 1179.1L1606.8 1189L1627 1198.9L1646.1 1210.3L1673.8 1216.3L1697.1 1214.5L1720.5 1210.3L1747.1 1206.4L1780 1202.8L1814 1200L1859.7 1198.2L1940.5 1197.15L2046.7 1196.8"/>
</g>
<g clip-path="url(#cR4)" fill="none" stroke-linejoin="round">
<path stroke="#0a5c0a" stroke-width="3" d="M1196.7 1664.4L1600 1664.4L1615.3 1665.1L1621.7 1671.5L1623.3 1657.3L1632.3 1660.9L1642.95 1664.4L2046.7 1664.4"/>
<path stroke="#6495ed" stroke-width="3.5" d="M1196.7 1664.6L1610 1664.4L1622.3 1651L1632.3 1662.6L2046.7 1664.2"/>
<path stroke="#0000ff" stroke-width="4" stroke-dasharray="17 8" d="M1196.7 1664.4L1610 1664.4L1622.3 1649.2L1632.3 1662.6L1642.95 1664L2046.7 1664.4"/>
<path stroke="#14148c" stroke-width="3.5" stroke-dasharray="3 14" d="M1196.7 1664.4L1610 1664.4L1622.3 1649.2L1632.3 1662.6L1642.95 1664L2046.7 1664.4"/>
</g>

<!-- ================= LEGENDS ================= -->
<rect x="644" y="516.7" width="340.3" height="136" fill="#fff" stroke="#000" stroke-width="3"/>
<circle cx="672.7" cy="542.3" r="8.5" fill="#11ee11"/>
<line x1="655.3" y1="571.7" x2="689.3" y2="571.7" stroke="#0a5c0a" stroke-width="3.5"/>
<line x1="655.3" y1="601" x2="689.3" y2="601" stroke="#6495ed" stroke-width="3.5"/>
<path d="M655.3 631h17M680 631h9.3" stroke="#0000ff" stroke-width="3.5"/>
<g font-size="24">
<text x="707.3" y="551.7" textLength="216.7" lengthAdjust="spacingAndGlyphs">ABAQUS Coseismic</text>
<text x="707.3" y="580.7" textLength="191.3" lengthAdjust="spacingAndGlyphs">Okada Coseismic</text>
<text x="707.3" y="610" textLength="238.7" lengthAdjust="spacingAndGlyphs">VISCO1D Postseismic</text>
<text x="707.3" y="640" textLength="236" lengthAdjust="spacingAndGlyphs">ABAQUS Postseismic</text>
</g>

<rect x="1727.3" y="516.7" width="319.4" height="140" fill="#fff" stroke="#000" stroke-width="3"/>
<line x1="1739.3" y1="542" x2="1772.7" y2="542" stroke="#0a5c0a" stroke-width="3.5"/>
<line x1="1739.3" y1="571.7" x2="1772.7" y2="571.7" stroke="#6495ed" stroke-width="3.5"/>
<path d="M1739.3 601.7h17.4M1765 601.7h7.7" stroke="#0000ff" stroke-width="3.5"/>
<circle cx="1740.9" cy="631" r="1.9" fill="#14148c"/>
<circle cx="1755.9" cy="631" r="1.9" fill="#14148c"/>
<circle cx="1770.9" cy="631" r="1.9" fill="#14148c"/>
<g font-size="24">
<text x="1790.7" y="551.7" textLength="112.7" lengthAdjust="spacingAndGlyphs">Coseismic</text>
<text x="1790.7" y="581" textLength="186.7" lengthAdjust="spacingAndGlyphs">Postseismic 10yr</text>
<text x="1790.7" y="610.7" textLength="186.7" lengthAdjust="spacingAndGlyphs">Postseismic 50yr</text>
<text x="1790.7" y="640" textLength="200" lengthAdjust="spacingAndGlyphs">Postseismic 100yr</text>
</g>

<!-- ================= FRAMES ================= -->
<g fill="none" stroke="#000" stroke-width="3">
<rect x="134.3" y="49.1" width="850" height="425"/>
<rect x="134.3" y="516.7" width="850" height="425"/>
<rect x="134.3" y="984.3" width="850" height="425"/>
<rect x="134.3" y="1451.9" width="850" height="425"/>
<rect x="1196.7" y="49.1" width="850" height="425"/>
<rect x="1196.7" y="516.7" width="850" height="425"/>
<rect x="1196.7" y="984.3" width="850" height="425"/>
<rect x="1196.7" y="1451.9" width="850" height="425"/>
</g>
</svg>
</body></html>
